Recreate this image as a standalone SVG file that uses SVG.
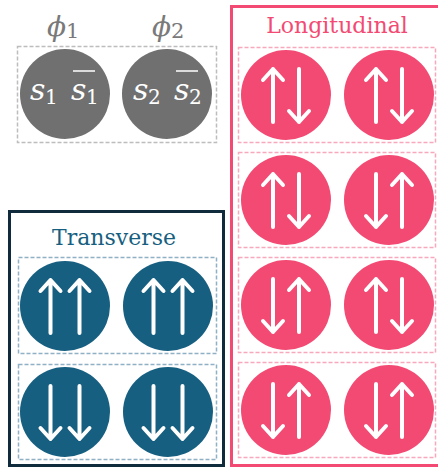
<svg xmlns="http://www.w3.org/2000/svg" width="438" height="468" viewBox="0 0 438 468">
<style>
.title{font-family:"DejaVu Serif","Liberation Serif",serif;font-size:22px;text-anchor:middle}
.math{font-family:"DejaVu Serif","Liberation Serif",serif;font-style:italic;fill:#fff}
.sub{font-family:"DejaVu Serif","Liberation Serif",serif;fill:#fff}
.arr{fill:none;stroke:#fff;stroke-width:4;stroke-linecap:round;stroke-linejoin:round}
.dg{fill:none;stroke:#bdbdbd;stroke-width:1.5;stroke-dasharray:4 2}
.dp{fill:none;stroke:#f8a8bc;stroke-width:1.5;stroke-dasharray:4 2}
.dt{fill:none;stroke:#8fb1c5;stroke-width:1.5;stroke-dasharray:4 2}
.cg{fill:#707070}.cp{fill:#f24a73}.ct{fill:#175f80}
</style>
<defs>
<path id="up" class="arr" d="M0,27V-26M-10,-15L0,-26L10,-15"/>
<path id="dn" class="arr" d="M0,-26V27M-10,16L0,27L10,16"/>
</defs>
<g id="longitudinal-frame">
<rect x="231.5" y="6.5" width="210" height="459" fill="#fff" stroke="#f24a73" stroke-width="3"/>
<text class="title" x="337" y="33" fill="#f24a73">Longitudinal</text>
</g>
<g id="transverse-frame">
<rect x="9.5" y="211.5" width="214" height="254" fill="#fff" stroke="#0f2b3c" stroke-width="3"/>
<text class="title" x="114" y="245" fill="#175f80">Transverse</text>
</g>
<g id="phi-pair">
<rect class="dg" x="17.5" y="46.5" width="199" height="96"/>
<text x="47" y="36" font-family="DejaVu Serif,Liberation Serif,serif" font-style="italic" font-size="28" fill="#7a7a7a">ϕ<tspan font-style="normal" font-size="21" dy="2">1</tspan></text>
<text x="152" y="36" font-family="DejaVu Serif,Liberation Serif,serif" font-style="italic" font-size="28" fill="#7a7a7a">ϕ<tspan font-style="normal" font-size="21" dy="2">2</tspan></text>
</g>
<g id="phi1">
<circle class="cg" cx="65" cy="94" r="45"/>
<text class="math" x="30" y="100" font-size="30">s</text><text class="sub" x="45" y="104" font-size="20">1</text>
<text class="math" x="71" y="100" font-size="30">s</text><text class="sub" x="86" y="104" font-size="20">1</text>
<line x1="73" y1="71" x2="95" y2="71" stroke="#fff" stroke-width="1.5"/>
</g>
<g id="phi2">
<circle class="cg" cx="167" cy="94" r="45"/>
<text class="math" x="133" y="100" font-size="30">s</text><text class="sub" x="148" y="104" font-size="20">2</text>
<text class="math" x="174" y="100" font-size="30">s</text><text class="sub" x="189" y="104" font-size="20">2</text>
<line x1="176" y1="71" x2="198" y2="71" stroke="#fff" stroke-width="1.5"/>
</g>
<g id="long-row1">
<rect class="dp" x="238.5" y="47.5" width="197" height="95"/>
<circle class="cp" cx="286" cy="95" r="45"/><use href="#up" x="273" y="95"/><use href="#dn" x="299" y="95"/>
<circle class="cp" cx="389" cy="95" r="45"/><use href="#up" x="376" y="95"/><use href="#dn" x="402" y="95"/>
</g>
<g id="long-row2">
<rect class="dp" x="238.5" y="152.5" width="197" height="95"/>
<circle class="cp" cx="286" cy="200" r="45"/><use href="#up" x="273" y="200"/><use href="#dn" x="299" y="200"/>
<circle class="cp" cx="389" cy="200" r="45"/><use href="#dn" x="376" y="200"/><use href="#up" x="402" y="200"/>
</g>
<g id="long-row3">
<rect class="dp" x="238.5" y="257.5" width="197" height="95"/>
<circle class="cp" cx="286" cy="305" r="45"/><use href="#dn" x="273" y="305"/><use href="#up" x="299" y="305"/>
<circle class="cp" cx="389" cy="305" r="45"/><use href="#up" x="376" y="305"/><use href="#dn" x="402" y="305"/>
</g>
<g id="long-row4">
<rect class="dp" x="238.5" y="362.5" width="197" height="95"/>
<circle class="cp" cx="286" cy="410" r="45"/><use href="#dn" x="273" y="410"/><use href="#up" x="299" y="410"/>
<circle class="cp" cx="389" cy="410" r="45"/><use href="#dn" x="376" y="410"/><use href="#up" x="402" y="410"/>
</g>
<g id="trans-row1">
<rect class="dt" x="18.5" y="257.5" width="198" height="96"/>
<circle class="ct" cx="65" cy="306" r="45"/><use href="#up" x="50.5" y="306"/><use href="#up" x="79.5" y="306"/>
<circle class="ct" cx="168" cy="306" r="45"/><use href="#up" x="153.5" y="306"/><use href="#up" x="182.5" y="306"/>
</g>
<g id="trans-row2">
<rect class="dt" x="18.5" y="364.5" width="198" height="95"/>
<circle class="ct" cx="65" cy="412" r="45"/><use href="#dn" x="50.5" y="412"/><use href="#dn" x="79.5" y="412"/>
<circle class="ct" cx="168" cy="412" r="45"/><use href="#dn" x="153.5" y="412"/><use href="#dn" x="182.5" y="412"/>
</g>
<g id="connectors"/>
</svg>
